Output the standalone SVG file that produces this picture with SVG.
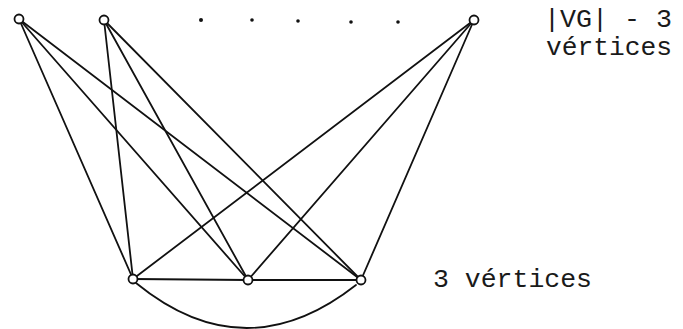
<svg xmlns="http://www.w3.org/2000/svg" width="683" height="329" viewBox="0 0 683 329">
<style>
.e{stroke:#111;stroke-width:1.8;fill:none;stroke-linecap:round}
.v{stroke:#111;stroke-width:1.8;fill:#fff}
.t{font-family:"Liberation Mono","DejaVu Sans Mono",monospace;font-size:25px;fill:#1a1a1a}
.d{fill:#111}
</style>
<rect width="683" height="329" fill="#fff"/>
<g id="connectors">
<line class="e" x1="19" y1="19" x2="133" y2="279"/>
<line class="e" x1="19" y1="19" x2="248" y2="280"/>
<line class="e" x1="19" y1="19" x2="361" y2="280"/>
<line class="e" x1="104" y1="20" x2="133" y2="279"/>
<line class="e" x1="104" y1="20" x2="248" y2="280"/>
<line class="e" x1="104" y1="20" x2="361" y2="280"/>
<line class="e" x1="474" y1="20" x2="133" y2="279"/>
<line class="e" x1="474" y1="20" x2="248" y2="280"/>
<line class="e" x1="474" y1="20" x2="361" y2="280"/>
<line class="e" x1="133" y1="279" x2="248" y2="280"/>
<line class="e" x1="248" y1="280" x2="361" y2="280"/>
<path class="e" d="M136,283 Q245,372 356,285"/>
</g>
<g id="v1"><circle class="v" cx="19" cy="19" r="4.5"/></g>
<g id="v2"><circle class="v" cx="104" cy="20" r="4.5"/></g>
<g id="v3"><circle class="v" cx="474" cy="20" r="4.5"/></g>
<g id="v4"><circle class="v" cx="133" cy="279" r="4.5"/></g>
<g id="v5"><circle class="v" cx="248" cy="280" r="4.5"/></g>
<g id="v6"><circle class="v" cx="361" cy="280" r="4.5"/></g>
<g id="dots">
<circle class="d" cx="201" cy="20" r="2"/>
<circle class="d" cx="252" cy="20" r="1.8"/>
<circle class="d" cx="298" cy="21" r="1.8"/>
<circle class="d" cx="351" cy="22" r="1.8"/>
<circle class="d" cx="398" cy="22" r="1.8"/>
</g>
<g id="labels">
<text class="t" x="544" y="27" textLength="128" lengthAdjust="spacingAndGlyphs">|VG| - 3</text>
<text class="t" x="546" y="55" textLength="126" lengthAdjust="spacingAndGlyphs">vértices</text>
<text class="t" x="433" y="287" textLength="159" lengthAdjust="spacingAndGlyphs">3 vértices</text>
</g>
</svg>
